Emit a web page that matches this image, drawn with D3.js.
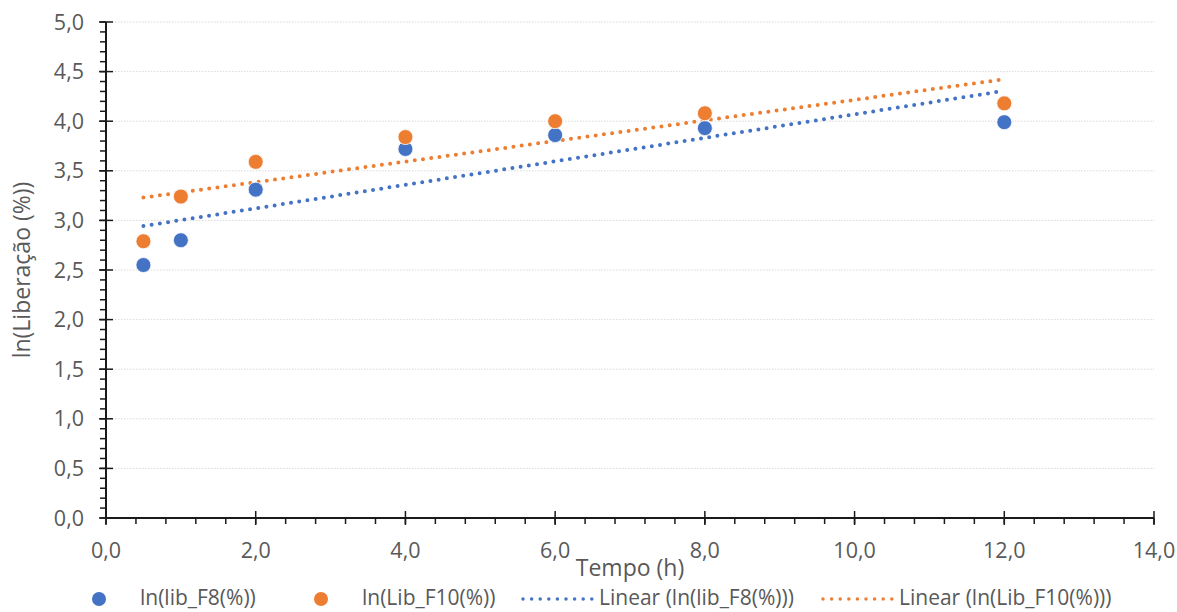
<!DOCTYPE html>
<html>
<head>
<meta charset="utf-8">
<script src="https://cdn.jsdelivr.net/npm/d3@7"></script>
<style>
  html, body { margin: 0; padding: 0; background: #fff; }
  svg { display: block; font-family: "Open Sans", "Noto Sans", sans-serif; }
</style>
</head>
<body>
<svg id="chart" width="1177" height="612"></svg>
<script>
// Sampling times (h)
const tempo = [0.5, 1, 2, 4, 6, 8, 12];
// ln of cumulative release (%) for each formulation
const lnF8 = [2.55, 2.80, 3.31, 3.72, 3.86, 3.93, 3.99];
const lnF10 = [2.79, 3.24, 3.59, 3.84, 4.00, 4.08, 4.18];

const seriesNames = ["ln(lib_F8(%))", "ln(Lib_F10(%))"];
const trendNames = ["Linear (ln(lib_F8(%)))", "Linear (ln(Lib_F10(%)))"];
const colors = ["#4472C4", "#ED7D31"];

const xTicks = [0, 2, 4, 6, 8, 10, 12, 14];
const yTicks = [0, 0.5, 1, 1.5, 2, 2.5, 3, 3.5, 4, 4.5, 5];

const fmt = v => v.toFixed(1).replace(".", ",");

const svg = d3.select("#chart");
const x = d3.scaleLinear().domain([0, 14]).range([106, 1154]);
const y = d3.scaleLinear().domain([0, 5]).range([518, 22]);

// horizontal gridlines
svg.append("g").selectAll("line")
  .data(yTicks.filter(v => v > 0))
  .join("line")
  .attr("x1", x(0)).attr("x2", x(14))
  .attr("y1", d => y(d)).attr("y2", d => y(d))
  .attr("stroke", "#d9d9d9").attr("stroke-width", 1)
  .attr("stroke-dasharray", "1.5 1.5");

// least-squares fit
function linfit(xs, ys) {
  const n = xs.length;
  const mx = d3.mean(xs), my = d3.mean(ys);
  let sxy = 0, sxx = 0;
  for (let i = 0; i < n; i++) {
    sxy += (xs[i] - mx) * (ys[i] - my);
    sxx += (xs[i] - mx) * (xs[i] - mx);
  }
  const b = sxy / sxx;
  return { a: my - b * mx, b };
}

const allSeries = [lnF8, lnF10];

// trend lines
const line = d3.line().x(d => x(d[0])).y(d => y(d[1]));
allSeries.forEach((vals, i) => {
  const f = linfit(tempo, vals);
  const x0 = d3.min(tempo), x1 = d3.max(tempo);
  svg.append("path")
    .datum([[x0, f.a + f.b * x0], [x1, f.a + f.b * x1]])
    .attr("d", line)
    .attr("fill", "none")
    .attr("stroke", colors[i])
    .attr("stroke-width", 4)
    .attr("stroke-linecap", "round")
    .attr("stroke-dasharray", "0 8.3");
});

// axes
const axisColor = "#1a1a1a";
const textColor = "#595959";
const gAx = svg.append("g");

// y minor ticks
gAx.selectAll(".ymin")
  .data(d3.range(0, 51).map(i => i / 10))
  .join("line")
  .attr("x1", x(0) - 6).attr("x2", x(0))
  .attr("y1", d => y(d)).attr("y2", d => y(d))
  .attr("stroke", axisColor).attr("stroke-width", 1.5);
// y major ticks
gAx.selectAll(".ymaj")
  .data(yTicks)
  .join("line")
  .attr("x1", x(0) - 7).attr("x2", x(0) + 7)
  .attr("y1", d => y(d)).attr("y2", d => y(d))
  .attr("stroke", axisColor).attr("stroke-width", 1.5);
// x minor ticks
gAx.selectAll(".xmin")
  .data(d3.range(0, 36).map(i => i * 0.4))
  .join("line")
  .attr("x1", d => x(d)).attr("x2", d => x(d))
  .attr("y1", y(0)).attr("y2", y(0) + 6)
  .attr("stroke", axisColor).attr("stroke-width", 1.5);
// x major ticks
gAx.selectAll(".xmaj")
  .data(xTicks)
  .join("line")
  .attr("x1", d => x(d)).attr("x2", d => x(d))
  .attr("y1", y(0) - 7).attr("y2", y(0) + 7)
  .attr("stroke", axisColor).attr("stroke-width", 1.5);
// axis lines
gAx.append("line")
  .attr("x1", x(0)).attr("x2", x(0)).attr("y1", y(0)).attr("y2", y(5))
  .attr("stroke", axisColor).attr("stroke-width", 2);
gAx.append("line")
  .attr("x1", x(0)).attr("x2", x(14)).attr("y1", y(0)).attr("y2", y(0))
  .attr("stroke", axisColor).attr("stroke-width", 2);

// tick labels
gAx.selectAll(".ylab")
  .data(yTicks)
  .join("text")
  .attr("x", 84).attr("y", d => y(d))
  .attr("dy", "0.35em")
  .attr("text-anchor", "end")
  .attr("font-size", 21.5)
  .attr("fill", textColor)
  .text(fmt);
gAx.selectAll(".xlab")
  .data(xTicks)
  .join("text")
  .attr("x", d => x(d)).attr("y", 550)
  .attr("dy", "0.35em")
  .attr("text-anchor", "middle")
  .attr("font-size", 21.5)
  .attr("fill", textColor)
  .text(fmt);

// axis titles
svg.append("text")
  .attr("x", 630).attr("y", 568)
  .attr("dy", "0.35em")
  .attr("text-anchor", "middle")
  .attr("font-size", 23)
  .attr("fill", textColor)
  .text("Tempo (h)");
svg.append("text")
  .attr("transform", `translate(22,${(y(0) + y(5)) / 2}) rotate(-90)`)
  .attr("dy", "0.35em")
  .attr("text-anchor", "middle")
  .attr("font-size", 23)
  .attr("fill", textColor)
  .text("ln(Liberação (%))");

// data points
allSeries.forEach((vals, i) => {
  svg.append("g").selectAll("circle")
    .data(tempo.map((t, k) => [t, vals[k]]))
    .join("circle")
    .attr("cx", d => x(d[0]))
    .attr("cy", d => y(d[1]))
    .attr("r", 7.5)
    .attr("fill", colors[i])
    .attr("stroke", "#fff")
    .attr("stroke-width", 0.8);
});

// legend
const legY = 599;
const textY = 605;
const leg = svg.append("g");
const markerX = [99, 321];
const markerTextX = [140, 362];
seriesNames.forEach((name, i) => {
  leg.append("circle")
    .attr("cx", markerX[i]).attr("cy", legY).attr("r", 7)
    .attr("fill", colors[i]);
  leg.append("text")
    .attr("x", markerTextX[i]).attr("y", textY)
    .attr("font-size", 21).attr("fill", textColor)
    .text(name);
});
const lineX = [[523, 592], [823, 892]];
const lineTextX = [599, 899];
trendNames.forEach((name, i) => {
  leg.append("line")
    .attr("x1", lineX[i][0]).attr("x2", lineX[i][1])
    .attr("y1", legY).attr("y2", legY)
    .attr("stroke", colors[i]).attr("stroke-width", 3.5)
    .attr("stroke-linecap", "round")
    .attr("stroke-dasharray", "0 8.6");
  leg.append("text")
    .attr("x", lineTextX[i]).attr("y", textY)
    .attr("font-size", 21).attr("fill", textColor)
    .text(name);
});
</script>
</body>
</html>
